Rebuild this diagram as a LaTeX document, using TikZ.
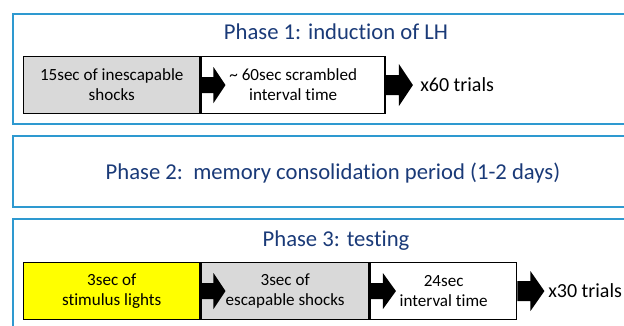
\documentclass[tikz,border=0pt]{standalone}
\usepackage{xcolor}
\usepackage{fontspec}
\setmainfont[Ligatures=NoCommon]{Carlito}
\usepackage{tikz}
\usetikzlibrary{positioning}

\definecolor{frameblue}{RGB}{46,153,208}
\definecolor{titleblue}{RGB}{26,58,120}
\definecolor{shockgray}{RGB}{217,217,217}
\definecolor{lightyellow}{RGB}{255,255,0}

\begin{document}
\begin{tikzpicture}[x=0.75pt,y=-0.75pt,
    phaseframe/.style={draw=frameblue,line width=1.6pt},
    phasetitle/.style={text=titleblue,font=\fontsize{17}{20}\selectfont,inner sep=0pt},
    stagebox/.style={draw=black,line width=1.1pt,inner sep=0pt,align=center,
      minimum height=42.5pt,font=\fontsize{12.8}{15}\selectfont},
    trialtext/.style={font=\fontsize{15}{18}\selectfont,inner sep=0pt,anchor=west},
    pics/blockarrow/.style n args={3}{code={%
      \fill[black] (0,-#1) -- (13,-#1) -- (13,-#2) -- (#3,0) -- (13,#2) -- (13,#1) -- (0,#1) -- cycle;}}]
\useasboundingbox (0,0) rectangle (624,325);%
\clip (0,0) rectangle (624,325);%

% Phase frames
\draw[phaseframe] (13,14) rectangle (662,124);%
\draw[phaseframe] (13,136) rectangle (662,207);%
\draw[phaseframe] (13,219) rectangle (662,340);%

% Phase 1: induction of LH
\node[phasetitle,anchor=base] (title1) at (336,39) {Phase 1: induction of LH};%
\node[stagebox,fill=shockgray,minimum width=132pt,anchor=north west] (shock1) at (23,56)
  {15sec of inescapable\\shocks};%
\node[stagebox,fill=white,minimum width=138pt,right=0pt of shock1] (interval1)
  {\textasciitilde{} 60sec scrambled\\interval time};%
\pic at (shock1.east) {blockarrow={8}{18}{25}};%
\pic at (interval1.east) {blockarrow={10}{21}{27}};%
\node[trialtext] (rep1) at (420,85) {x60 trials};%

% Phase 2: memory consolidation
\node[phasetitle,anchor=base] (title2) at (333,179) {Phase 2:\ \ memory consolidation period (1-2 days)};%

% Phase 3: testing
\node[phasetitle,anchor=base] (title3) at (336,246) {Phase 3: testing};%
\node[stagebox,fill=lightyellow,minimum width=132pt,anchor=north west] (light3) at (23,262)
  {3sec of\\stimulus lights};%
\node[stagebox,fill=shockgray,minimum width=126pt,right=0pt of light3] (shock3)
  {3sec of\\escapable shocks};%
\node[stagebox,fill=white,minimum width=109.5pt,right=0pt of shock3] (interval3)
  {24sec\\interval time};%
\pic at (light3.east) {blockarrow={8}{18}{25}};%
\pic at (shock3.east) {blockarrow={8}{18}{26}};%
\pic at (interval3.east) {blockarrow={10}{20}{27}};%
\node[trialtext] (rep3) at (548,291) {x30 trials};%
\end{tikzpicture}
\end{document}
